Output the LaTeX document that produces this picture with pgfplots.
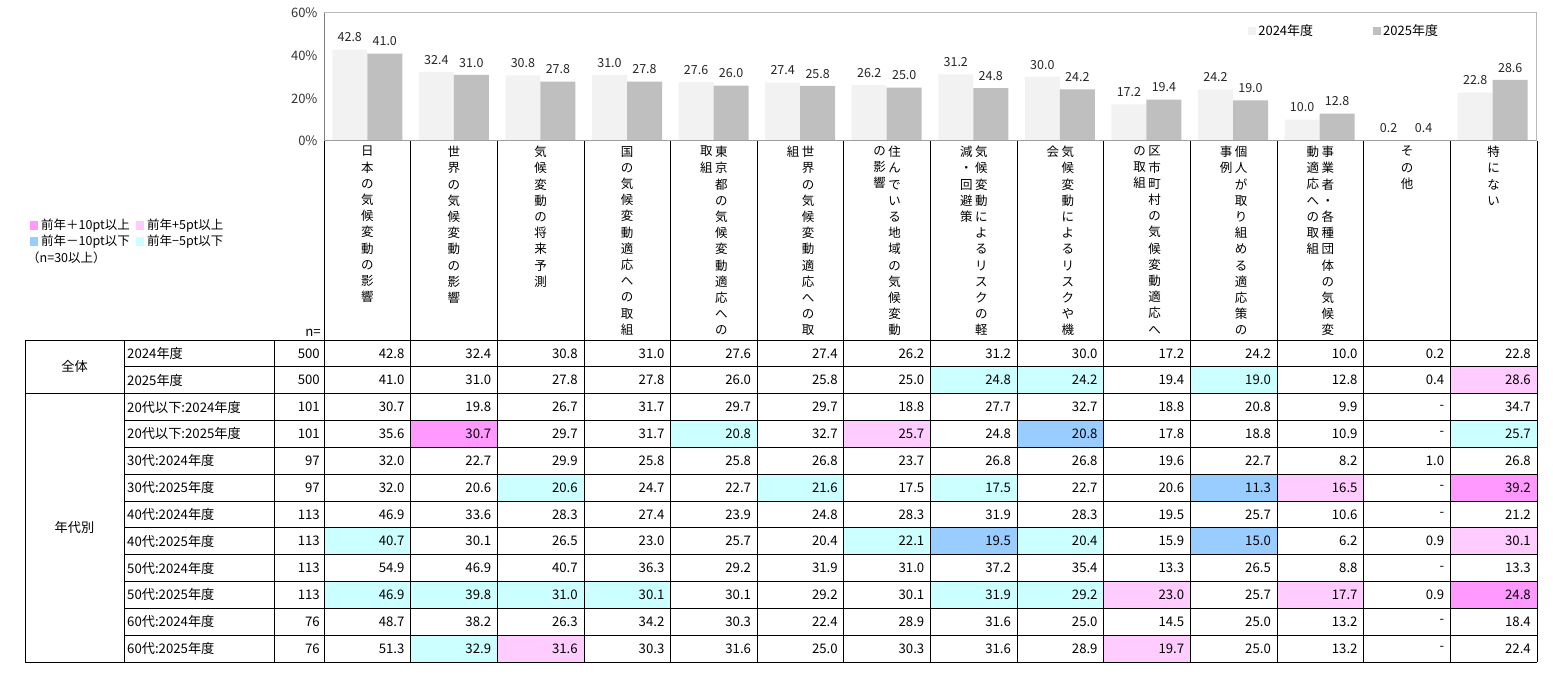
\documentclass[border=0pt]{standalone}
\usepackage{fontspec}
\setmainfont{Noto Sans CJK JP}
\usepackage{pgfplots}
\pgfplotsset{compat=1.18}
\pgfplotsset{/pgf/number format/assume math mode=true}

\definecolor{c24}{HTML}{F2F2F2}
\definecolor{c25}{HTML}{BFBFBF}
\definecolor{pA}{HTML}{FF99FF} % +10pt
\definecolor{pB}{HTML}{FFCCFF} % +5pt
\definecolor{mA}{HTML}{99CCFF} % -10pt
\definecolor{mB}{HTML}{CCFFFF} % -5pt

\newcommand\tf{\fontsize{13.2}{15}\selectfont}
\newcommand\lf{\fontsize{12.5}{14}\selectfont}

% vertical (tategaki) column of characters
\ExplSyntaxOn
\cs_new_protected:Npn \my_vt:n #1
  {
    \vbox:n
      {
        \baselineskip=16.2pt \lineskiplimit=-100pt
        \tl_map_inline:nn {#1} { \hbox_to_wd:nn {14pt} { \hss ##1 \hss } }
      }
  }
\NewDocumentCommand \vt { m } { \exp_args:No \my_vt:n {#1} }
\ExplSyntaxOff

\def\cw{86.64}
\def\rh{26.833}

\begin{document}
\begin{tikzpicture}
\begin{axis}[
  at={(324pt,-141pt)}, anchor=south west,
  scale only axis, width=1212pt, height=128pt,
  xmin=-0.5, xmax=13.5, ymin=0, ymax=60,
  ybar=0pt, bar width=35pt,
  xtick=\empty,
  ytick={0,20,40,60},
  yticklabel={\pgfmathprintnumber{\tick}\%},
  yticklabel style={font=\fontsize{13}{15}\selectfont, text=black!80, xshift=-3pt},
  major tick length=0pt,
  axis line style={draw=black!28, line width=1pt},
  nodes near coords={\pgfmathprintnumber[fixed,fixed zerofill,precision=1]{\pgfplotspointmeta}},
  every node near coord/.append style={font=\lf, text=black!85, yshift=4pt},
  legend columns=2,
  legend image code/.code={\fill[#1] (0pt,-4pt) rectangle (8pt,4pt);},
  legend style={at={(0.76,0.86)}, anchor=west, draw=none, fill=none,
    font=\fontsize{13}{15}\selectfont,
    /tikz/every even column/.append style={column sep=58pt}},
]
\addplot[fill=c24, draw=none] coordinates {
(0,42.8) (1,32.4) (2,30.8) (3,31.0) (4,27.6) (5,27.4) (6,26.2)
(7,31.2) (8,30.0) (9,17.2) (10,24.2) (11,10.0) (12,0.2) (13,22.8)};
\addplot[fill=c25, draw=none] coordinates {
(0,41.0) (1,31.0) (2,27.8) (3,27.8) (4,26.0) (5,25.8) (6,25.0)
(7,24.8) (8,24.2) (9,19.4) (10,19.0) (11,12.8) (12,0.4) (13,28.6)};
\legend{2024年度, 2025年度}
\draw[black!50, line width=1pt] (axis cs:-0.5,0) -- (axis cs:-0.5,60);
\draw[black!38, line width=1.6pt] (axis cs:-0.5,0) -- (axis cs:13.5,0);
\end{axis}

\begin{scope}[x=1pt, y=-1pt]
% highlighted cells
\foreach \r/\c/\col in {2/8/mB, 2/9/mB, 2/11/mB, 2/14/pB,
  4/2/pA, 4/5/mB, 4/7/pB, 4/9/mA, 4/14/mB,
  6/3/mB, 6/6/mB, 6/8/mB, 6/11/mA, 6/12/pB, 6/14/pA,
  8/1/mB, 8/7/mB, 8/8/mA, 8/9/mB, 8/11/mA, 8/14/pB,
  10/1/mB, 10/2/mB, 10/3/mB, 10/4/mB, 10/8/mB, 10/9/mB, 10/10/pB, 10/12/pB, 10/14/pA,
  12/2/mB, 12/3/pB, 12/10/pB}
  \fill[\col] ({324+(\c-1)*\cw},{340+(\r-1)*\rh}) rectangle ++(\cw,\rh);

% table rules
\begin{scope}[line width=0.8pt]
\draw (25,340) -- (1537,340);
\draw (25,662) -- (1537,662);
\draw (25,{340+2*\rh}) -- (1537,{340+2*\rh});
\foreach \k in {1,3,4,...,11} \draw (124,{340+\k*\rh}) -- (1537,{340+\k*\rh});
\draw (25,340) -- (25,662);
\draw (124,340) -- (124,662);
\draw (274,340) -- (274,662);
\foreach \c in {0,...,14} \draw ({324+\c*\cw},141) -- ({324+\c*\cw},662);
\end{scope}

% vertical category labels
\foreach \i/\ta in {0/日本の気候変動の影響, 1/世界の気候変動の影響, 2/気候変動の将来予測,
  3/国の気候変動適応への取組, 12/その他, 13/特にない}
  \node[anchor=north, inner sep=0pt, font=\lf] at ({324+(\i+0.5)*\cw},146) {\vt{\ta}};
\foreach \i/\ta/\tb in {4/東京都の気候変動適応への/取組, 5/世界の気候変動適応への取/組,
  6/住んでいる地域の気候変動/の影響, 7/気候変動によるリスクの軽/減・回避策,
  8/気候変動によるリスクや機/会, 9/区市町村の気候変動適応へ/の取組,
  10/個人が取り組める適応策の/事例, 11/事業者・各種団体の気候変/動適応への取組}{
  \node[anchor=north, inner sep=0pt, font=\lf] at ({324+(\i+0.5)*\cw+7.5},146) {\vt{\ta}};
  \node[anchor=north, inner sep=0pt, font=\lf] at ({324+(\i+0.5)*\cw-7.5},146) {\vt{\tb}};
}
\node[anchor=east, inner sep=0pt, font=\tf] at (321,333) {n=};

% left legend
\begin{scope}[font=\lf]
\fill[pA] (30,221) rectangle (38,230);
\node[anchor=west, inner sep=0pt] at (41,226) {前年＋10pt以上};
\fill[pB] (136,221) rectangle (144,230);
\node[anchor=west, inner sep=0pt] at (147,226) {前年+5pt以上};
\fill[mA] (30,237) rectangle (38,246);
\node[anchor=west, inner sep=0pt] at (41,242) {前年－10pt以下};
\fill[mB] (136,237) rectangle (144,246);
\node[anchor=west, inner sep=0pt] at (147,242) {前年−5pt以下};
\node[anchor=west, inner sep=0pt] at (27,258) {（n=30以上）};
\end{scope}

% table text
\begin{scope}[font=\tf]
\node at (74.5,{340+\rh}) {全体};
\node at (74.5,{340+7*\rh}) {年代別};
\foreach \r/\lab/\n/\vals in {
 1/2024年度/500/{42.8,32.4,30.8,31.0,27.6,27.4,26.2,31.2,30.0,17.2,24.2,10.0,0.2,22.8},
 2/2025年度/500/{41.0,31.0,27.8,27.8,26.0,25.8,25.0,24.8,24.2,19.4,19.0,12.8,0.4,28.6},
 3/20代以下:2024年度/101/{30.7,19.8,26.7,31.7,29.7,29.7,18.8,27.7,32.7,18.8,20.8,9.9,-,34.7},
 4/20代以下:2025年度/101/{35.6,30.7,29.7,31.7,20.8,32.7,25.7,24.8,20.8,17.8,18.8,10.9,-,25.7},
 5/30代:2024年度/97/{32.0,22.7,29.9,25.8,25.8,26.8,23.7,26.8,26.8,19.6,22.7,8.2,1.0,26.8},
 6/30代:2025年度/97/{32.0,20.6,20.6,24.7,22.7,21.6,17.5,17.5,22.7,20.6,11.3,16.5,-,39.2},
 7/40代:2024年度/113/{46.9,33.6,28.3,27.4,23.9,24.8,28.3,31.9,28.3,19.5,25.7,10.6,-,21.2},
 8/40代:2025年度/113/{40.7,30.1,26.5,23.0,25.7,20.4,22.1,19.5,20.4,15.9,15.0,6.2,0.9,30.1},
 9/50代:2024年度/113/{54.9,46.9,40.7,36.3,29.2,31.9,31.0,37.2,35.4,13.3,26.5,8.8,-,13.3},
 10/50代:2025年度/113/{46.9,39.8,31.0,30.1,30.1,29.2,30.1,31.9,29.2,23.0,25.7,17.7,0.9,24.8},
 11/60代:2024年度/76/{48.7,38.2,26.3,34.2,30.3,22.4,28.9,31.6,25.0,14.5,25.0,13.2,-,18.4},
 12/60代:2025年度/76/{51.3,32.9,31.6,30.3,31.6,25.0,30.3,31.6,28.9,19.7,25.0,13.2,-,22.4}}{
  \node[anchor=west, inner sep=0pt] at (127,{340+(\r-0.5)*\rh}) {\lab};
  \node[anchor=east, inner sep=0pt] at (320,{340+(\r-0.5)*\rh}) {\n};
  \foreach \v [count=\c] in \vals
    \node[anchor=east, inner sep=0pt] at ({324+\c*\cw-6},{340+(\r-0.5)*\rh}) {\v};
}
\end{scope}

\pgfresetboundingbox
\path[use as bounding box] (0,0) rectangle (1553,682);
\end{scope}
\end{tikzpicture}
\end{document}
